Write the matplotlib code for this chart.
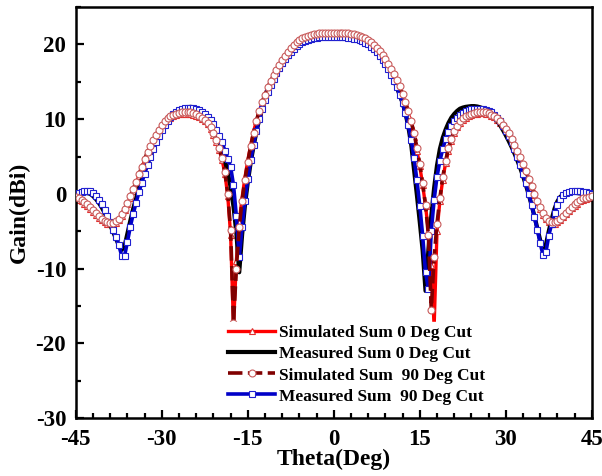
import numpy as np
import matplotlib
matplotlib.use("Agg")
import matplotlib.pyplot as plt
from matplotlib.ticker import MultipleLocator

plt.rcParams['font.family'] = ['Liberation Serif', 'DejaVu Serif']
plt.rcParams['font.weight'] = 'bold'
plt.rcParams['axes.unicode_minus'] = False

# theta grid, 0.5 deg steps from -45 to 45
theta = np.arange(-45, 45.5, 0.5)

# simulated sum, 0 deg cut (red)
sim_0 = [
    -0.6, -0.8, -1.0, -1.3, -1.6, -2.0, -2.4, -2.8, -3.2, -3.5,
    -3.8, -4.0, -4.1, -4.1, -3.9, -3.5, -2.9, -2.2, -1.4, -0.5,
    0.4, 1.4, 2.4, 3.4, 4.5, 5.4, 6.2, 7.0, 7.7, 8.4,
    9.0, 9.5, 9.9, 10.2, 10.4, 10.55, 10.65, 10.7, 10.75, 10.75,
    10.7, 10.6, 10.45, 10.25, 10.0, 9.7, 9.3, 8.7, 7.9, 7.0,
    5.9, 4.6, 2.7, -0.3, -5.5, -17.8, -9.0, -3.8, -0.5, 2.2,
    4.5, 6.5, 8.3, 9.8, 11.0, 12.1, 13.1, 14.0, 14.8, 15.6,
    16.3, 16.9, 17.5, 18.1, 18.6, 19.1, 19.5, 19.9, 20.2, 20.45,
    20.65, 20.8, 20.9, 21.0, 21.05, 21.1, 21.1, 21.15, 21.15, 21.15,
    21.15, 21.15, 21.15, 21.15, 21.1, 21.1, 21.05, 21.0, 20.9, 20.8,
    20.65, 20.45, 20.2, 19.9, 19.55, 19.15, 18.7, 18.2, 17.6, 17.0,
    16.3, 15.6, 14.8, 13.9, 12.9, 11.8, 10.6, 9.2, 7.6, 5.8,
    3.7, 1.2, -1.6, -5.0, -9.5, -17.8, -5.0, -1.0, 1.9, 4.1,
    5.8, 7.1, 8.1, 8.9, 9.5, 9.9, 10.2, 10.45, 10.6, 10.7,
    10.75, 10.8, 10.8, 10.75, 10.65, 10.45, 10.25, 9.95, 9.55, 9.05,
    8.55, 7.95, 7.25, 6.45, 5.6, 4.7, 3.8, 2.8, 1.8, 0.8,
    -0.2, -1.1, -2.0, -2.8, -3.4, -3.8, -4.0, -4.0, -3.8, -3.5,
    -3.1, -2.7, -2.3, -1.9, -1.6, -1.3, -1.0, -0.8, -0.7, -0.6,
    -0.5,
]

# measured sum, 0 deg cut (black)
meas_0 = [
    -0.3, -0.1, 0.05, 0.1, 0.1, 0.0, -0.3, -0.7, -1.2, -1.8,
    -2.5, -3.3, -4.2, -5.1, -6.0, -6.9, -7.5, -7.0, -5.3, -3.6,
    -2.0, -0.6, 0.7, 1.9, 3.0, 4.1, 5.1, 6.0, 6.9, 7.7,
    8.4, 9.1, 9.7, 10.2, 10.6, 10.95, 11.2, 11.4, 11.55, 11.6,
    11.65, 11.6, 11.5, 11.3, 11.0, 10.6, 10.1, 9.5, 8.8, 8.0,
    7.0, 5.9, 4.5, 2.9, 0.9, -1.7, -5.2, -10.5, -5.5, -1.5,
    1.6, 4.2, 6.4, 8.3, 10.0, 11.4, 12.6, 13.7, 14.7, 15.6,
    16.4, 17.1, 17.7, 18.3, 18.8, 19.25, 19.65, 20.0, 20.3, 20.5,
    20.7, 20.8, 20.9, 20.95, 21.0, 21.05, 21.05, 21.1, 21.1, 21.1,
    21.1, 21.1, 21.1, 21.05, 21.05, 21.0, 20.95, 20.9, 20.8, 20.7,
    20.55, 20.35, 20.1, 19.8, 19.45, 19.05, 18.6, 18.05, 17.45, 16.8,
    16.05, 15.2, 14.25, 13.2, 12.2, 10.8, 9.0, 6.6, 3.2, -0.2,
    -3.8, -7.6, -13.0, -7.5, -3.0, 0.8, 3.8, 6.0, 7.5, 8.6,
    9.5, 10.2, 10.7, 11.1, 11.4, 11.55, 11.65, 11.7, 11.75, 11.75,
    11.7, 11.6, 11.45, 11.25, 11.0, 10.65, 10.25, 9.75, 9.2, 8.55,
    7.85, 7.1, 6.3, 5.45, 4.5, 3.5, 2.4, 1.2, -0.1, -1.5,
    -3.0, -4.6, -6.2, -7.5, -6.8, -5.0, -3.4, -2.0, -1.0, -0.4,
    -0.1, 0.05, 0.1, 0.15, 0.15, 0.1, 0.05, 0.0, -0.05, -0.1,
    -0.15,
]

# simulated sum, 90 deg cut (dark red dashed, circles)
sim_90 = [
    -0.4, -0.6, -0.8, -1.1, -1.4, -1.8, -2.2, -2.6, -3.0, -3.3,
    -3.6, -3.8, -3.9, -3.9, -3.7, -3.3, -2.7, -2.0, -1.2, -0.3,
    0.6, 1.6, 2.6, 3.6, 4.7, 5.6, 6.4, 7.2, 7.9, 8.6,
    9.2, 9.7, 10.1, 10.4, 10.6, 10.75, 10.85, 10.9, 10.95, 10.95,
    10.9, 10.8, 10.65, 10.45, 10.2, 9.9, 9.5, 8.9, 8.1, 7.2,
    6.1, 4.8, 2.9, 0.0, -4.8, -17.3, -10.0, -4.5, -0.9, 1.9,
    4.3, 6.4, 8.2, 9.8, 11.1, 12.3, 13.3, 14.3, 15.1, 15.9,
    16.6, 17.3, 17.9, 18.5, 19.0, 19.5, 19.9, 20.3, 20.6, 20.85,
    21.05, 21.2, 21.3, 21.4, 21.45, 21.5, 21.5, 21.55, 21.55, 21.55,
    21.55, 21.55, 21.55, 21.55, 21.5, 21.5, 21.45, 21.4, 21.3, 21.2,
    21.05, 20.85, 20.6, 20.3, 19.95, 19.55, 19.1, 18.6, 18.0, 17.4,
    16.7, 16.0, 15.2, 14.4, 13.4, 12.3, 11.1, 9.7, 8.1, 6.2,
    4.0, 1.4, -1.5, -5.5, -15.5, -8.5, -4.0, -0.6, 2.2, 4.4,
    6.1, 7.4, 8.4, 9.1, 9.7, 10.1, 10.4, 10.6, 10.75, 10.85,
    10.9, 10.95, 10.95, 10.9, 10.8, 10.6, 10.4, 10.1, 9.7, 9.2,
    8.7, 8.1, 7.4, 6.6, 5.8, 4.9, 4.0, 3.0, 2.0, 1.0,
    0.0, -0.9, -1.8, -2.6, -3.2, -3.6, -3.8, -3.8, -3.6, -3.3,
    -2.9, -2.5, -2.1, -1.7, -1.4, -1.1, -0.8, -0.6, -0.5, -0.4,
    -0.3,
]

# measured sum, 90 deg cut (blue, squares)
meas_90 = [
    -0.1, 0.1, 0.25, 0.35, 0.4, 0.35, 0.1, -0.3, -0.8, -1.4,
    -2.1, -2.9, -3.8, -4.8, -5.8, -6.9, -8.3, -8.3, -6.4, -4.4,
    -2.7, -1.2, 0.2, 1.5, 2.7, 3.9, 5.0, 6.0, 6.9, 7.7,
    8.5, 9.2, 9.8, 10.3, 10.7, 11.0, 11.2, 11.35, 11.45, 11.5,
    11.5, 11.45, 11.35, 11.2, 11.0, 10.7, 10.35, 9.9, 9.3, 8.6,
    7.8, 6.9, 5.8, 4.7, 3.6, 1.2, -3.0, -8.5, -4.5, -0.9,
    2.0, 4.5, 6.6, 8.4, 10.0, 11.4, 12.6, 13.6, 14.6, 15.4,
    16.2, 16.9, 17.5, 18.1, 18.6, 19.05, 19.45, 19.8, 20.1, 20.3,
    20.5, 20.65, 20.75, 20.85, 20.9, 20.95, 21.0, 21.0, 21.0, 21.0,
    21.0, 21.0, 21.0, 21.0, 20.95, 20.9, 20.85, 20.8, 20.7, 20.6,
    20.45, 20.25, 20.0, 19.7, 19.35, 18.95, 18.5, 17.95, 17.35, 16.7,
    15.95, 15.15, 14.25, 13.25, 12.1, 10.8, 9.2, 7.2, 4.8, 1.8,
    -1.6, -5.6, -10.5, -12.8, -5.0, -0.8, 2.3, 4.4, 6.0, 7.3,
    8.3, 9.1, 9.7, 10.2, 10.55, 10.85, 11.05, 11.2, 11.3, 11.35,
    11.4, 11.4, 11.35, 11.25, 11.1, 10.9, 10.6, 10.2, 9.7, 9.1,
    8.45, 7.7, 6.9, 6.0, 5.0, 3.9, 2.7, 1.4, 0.0, -1.5,
    -3.1, -4.8, -6.6, -8.2, -7.8, -5.6, -4.0, -2.6, -1.5, -0.7,
    -0.2, 0.1, 0.25, 0.35, 0.4, 0.4, 0.35, 0.3, 0.2, 0.1,
    0.0,
]

labels = ["Simulated Sum 0 Deg Cut", "Measured Sum 0 Deg Cut",
          "Simulated Sum  90 Deg Cut", "Measured Sum  90 Deg Cut"]

fig = plt.figure(figsize=(6.02, 4.76), dpi=100)
ax = fig.add_axes([0.126, 0.122, 0.857, 0.863])

ax.plot(theta, sim_0, color='#ff0000', lw=2.4, marker='^', ms=4.5,
        mfc='white', mec='#e03030', mew=0.8, label=labels[0], zorder=2)
ax.plot(theta, meas_0, color='black', lw=3.0, label=labels[1], zorder=3)
ax.plot(theta, meas_90, color='#0000c8', lw=2.6, marker='s', ms=4.5,
        mfc='white', mec='#2020d0', mew=0.8, label=labels[3], zorder=4)
ax.plot(theta, sim_90, color='#800000', lw=2.6, ls=(0, (4, 1.5)), marker='o',
        ms=5, mfc='white', mec='#c85a5a', mew=0.8, label=labels[2], zorder=5)

ax.set_xlim(-45, 45)
ax.set_ylim(-30, 25)
ax.xaxis.set_major_locator(MultipleLocator(15))
ax.xaxis.set_minor_locator(MultipleLocator(3))
ax.yaxis.set_major_locator(MultipleLocator(10))
ax.yaxis.set_minor_locator(MultipleLocator(5))
ax.set_yticks([-30, -20, -10, 0, 10, 20])
ax.tick_params(which='both', direction='in', top=False, right=False, width=1.6)
ax.tick_params(which='major', length=6, labelsize=16.5)
ax.tick_params(axis='x', which='major', pad=8)
ax.tick_params(axis='y', which='major', pad=7)
ax.tick_params(which='minor', length=3.5)
for s in ax.spines.values():
    s.set_linewidth(1.8)

ax.set_xlabel("Theta(Deg)", fontsize=17, fontweight='bold', labelpad=-1)
ax.set_ylabel("Gain(dBi)", fontsize=17, fontweight='bold', labelpad=4)

h, l = ax.get_legend_handles_labels()
order = [0, 1, 3, 2]
leg = ax.legend([h[i] for i in order], [l[i] for i in order],
                loc='upper left', bbox_to_anchor=(0.272, 0.255),
                frameon=True, framealpha=1, edgecolor='white',
                fontsize=12.5, handlelength=2.7, handletextpad=0.2,
                labelspacing=0.28, borderpad=0.2)
leg.set_zorder(10)

fig.savefig("out.png", dpi=100)
